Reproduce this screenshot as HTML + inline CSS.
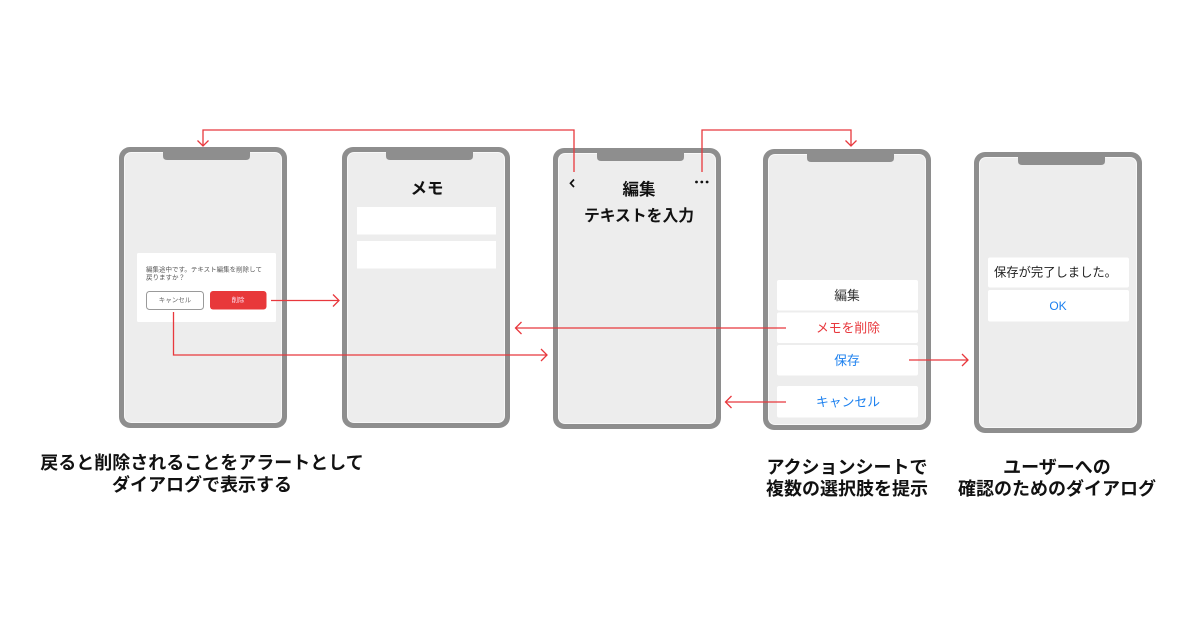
<!DOCTYPE html>
<html><head><meta charset="utf-8"><style>
html,body{margin:0;padding:0;background:#fff;}
svg{display:block;}
text{font-family:"Liberation Sans","Noto Sans CJK JP",sans-serif;}
</style></head><body>
<svg width="1200" height="630" viewBox="0 0 1200 630" xmlns="http://www.w3.org/2000/svg">
<defs>
<g id="phone">
  <rect x="0" y="0" width="168" height="281" rx="11" fill="#8e8e8e"/>
  <rect x="5" y="5" width="158" height="271" rx="7" fill="#f8f8f8"/>
  <rect x="6" y="6" width="156" height="269" rx="6" fill="#ededed"/>
  <path d="M44 0 H131 V9 Q131 13 127 13 H48 Q44 13 44 9 Z" fill="#8e8e8e"/>
</g>
</defs>

<!-- Phones -->
<use href="#phone" x="119" y="147"/>
<use href="#phone" x="342" y="147"/>
<use href="#phone" x="553" y="148"/>
<use href="#phone" x="763" y="149"/>
<use href="#phone" x="974" y="152"/>

<!-- Phone 1 dialog -->
<rect x="137" y="253" width="139" height="69" rx="1.5" fill="#fff"/>
<text x="146" y="270" font-size="6.5" fill="#555" dominant-baseline="central">編集途中です。テキスト編集を削除して</text>
<text x="146" y="278" font-size="6.5" fill="#555" dominant-baseline="central">戻りますか？</text>
<rect x="146.5" y="291.5" width="57" height="18" rx="3" fill="#fff" stroke="#9a9a9a" stroke-width="1"/>
<text x="175" y="300.5" font-size="6.5" fill="#666" text-anchor="middle" dominant-baseline="central">キャンセル</text>
<rect x="210" y="291" width="56.5" height="18.5" rx="3" fill="#e8383a"/>
<text x="238" y="300.5" font-size="6.5" fill="#fde" text-anchor="middle" dominant-baseline="central">削除</text>

<!-- Phone 2 -->
<text x="427" y="189" font-size="16.5" font-weight="bold" fill="#111" text-anchor="middle" dominant-baseline="central">メモ</text>
<rect x="357" y="207" width="139" height="27.5" fill="#fff"/>
<rect x="357" y="241" width="139" height="27.5" fill="#fff"/>

<!-- Phone 3 -->
<path d="M574 179.5 L570.5 183.3 L574 187" fill="none" stroke="#111" stroke-width="1.7"/>
<circle cx="696.5" cy="182" r="1.4" fill="#111"/>
<circle cx="701.8" cy="182" r="1.4" fill="#111"/>
<circle cx="707.1" cy="182" r="1.4" fill="#111"/>
<text x="639" y="190" font-size="16.5" font-weight="bold" fill="#111" text-anchor="middle" dominant-baseline="central">編集</text>
<text x="639" y="216.5" font-size="15.8" font-weight="bold" fill="#111" text-anchor="middle" dominant-baseline="central">テキストを入力</text>

<!-- Phone 4 action sheet -->
<rect x="777" y="280" width="141" height="30.5" rx="2" fill="#fff"/>
<rect x="777" y="312.5" width="141" height="30.5" rx="2" fill="#fff"/>
<rect x="777" y="345" width="141" height="30.5" rx="2" fill="#fff"/>
<rect x="777" y="386" width="141" height="31.5" rx="2" fill="#fff"/>
<text x="847" y="295.5" font-size="12.8" fill="#333" text-anchor="middle" dominant-baseline="central">編集</text>
<text x="848" y="328" font-size="12.8" fill="#e8383d" text-anchor="middle" dominant-baseline="central">メモを削除</text>
<text x="847" y="360.5" font-size="12.8" fill="#1c80ef" text-anchor="middle" dominant-baseline="central">保存</text>
<text x="848" y="402" font-size="12.8" fill="#1c80ef" text-anchor="middle" dominant-baseline="central">キャンセル</text>

<!-- Phone 5 dialog -->
<rect x="988" y="257.5" width="141" height="30" rx="2" fill="#fff"/>
<rect x="988" y="290" width="141" height="31.5" rx="2" fill="#fff"/>
<text x="994" y="272.5" font-size="12.3" fill="#222" dominant-baseline="central">保存が完了しました。</text>
<text x="1058" y="306" font-size="12" fill="#1c80ef" text-anchor="middle" dominant-baseline="central">OK</text>

<!-- Connectors -->
<g fill="none" stroke="#e8383d" stroke-width="1.3" stroke-linejoin="miter">
  <polyline points="574,172 574,130 203,130 203,146"/>
  <polyline points="197.5,140.5 203,146 208.5,140.5"/>
  <polyline points="702,172 702,130 851,130 851,146"/>
  <polyline points="845.5,140.5 851,146 856.5,140.5"/>
  <polyline points="271,300.5 339,300.5"/>
  <polyline points="333,294.5 339,300.5 333,306.5"/>
  <polyline points="173.5,312 173.5,355 547,355"/>
  <polyline points="541,349 547,355 541,361"/>
  <polyline points="786,328 515.5,328"/>
  <polyline points="521.5,322 515.5,328 521.5,334"/>
  <polyline points="786,402 725.5,402"/>
  <polyline points="731.5,396 725.5,402 731.5,408"/>
  <polyline points="909,360 968,360"/>
  <polyline points="962,354 968,360 962,366"/>
</g>

<!-- Captions -->
<g font-size="18" font-weight="bold" fill="#111" text-anchor="middle">
  <text x="202" y="463" dominant-baseline="central">戻ると削除されることをアラートとして</text>
  <text x="202" y="485" dominant-baseline="central">ダイアログで表示する</text>
  <text x="847" y="467.5" dominant-baseline="central">アクションシートで</text>
  <text x="847" y="489" dominant-baseline="central">複数の選択肢を提示</text>
  <text x="1057" y="467.5" dominant-baseline="central">ユーザーへの</text>
  <text x="1057" y="489" dominant-baseline="central">確認のためのダイアログ</text>
</g>
</svg>
</body></html>
